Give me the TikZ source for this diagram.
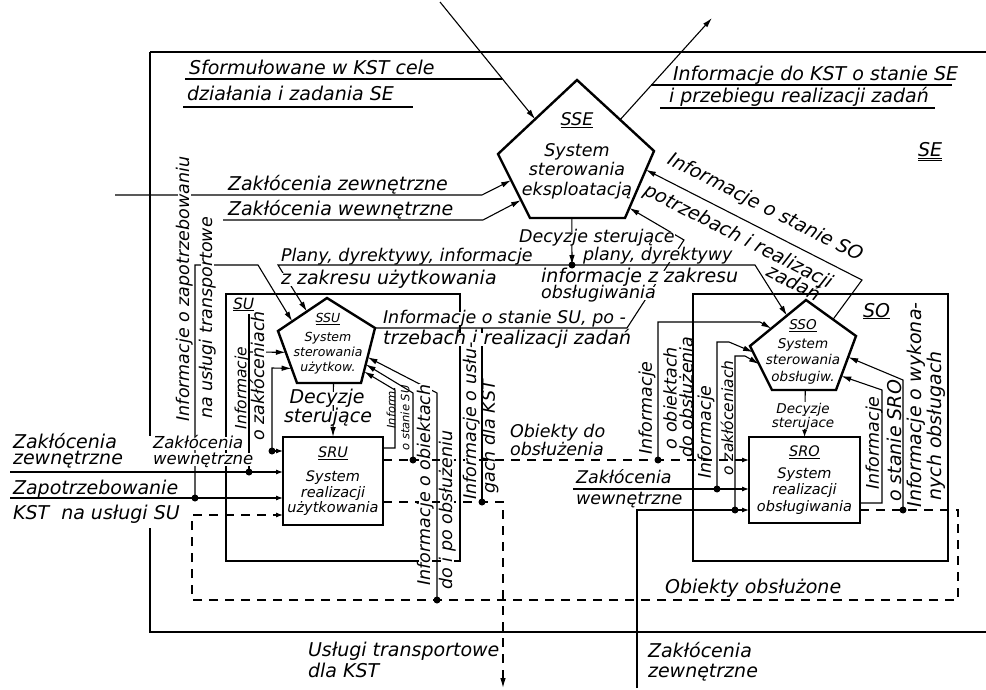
\documentclass[tikz,border=0pt]{standalone}
\usepackage{fontspec}
\setmainfont{DejaVu Sans}[ItalicFont={DejaVu Sans Oblique}]
\usetikzlibrary{arrows.meta,calc}
\tikzset{
  fr/.style={line width=2.3pt},
  pent/.style={line width=2.4pt,line join=miter},
  box/.style={draw,line width=2.2pt,inner sep=0pt,outer sep=0pt,align=center},
  dot/.style={circle,fill,inner sep=0pt,minimum size=7pt},
  flow/.style={dash pattern=on 9pt off 7pt},
  sm/.style={-{Latex[length=7pt,width=5pt]}},
  tA/.style={font=\itshape\fontsize{19}{21}\selectfont,inner sep=0.5pt},
  tB/.style={font=\itshape\fontsize{17.5}{19.5}\selectfont,inner sep=0.5pt},
  tC/.style={font=\itshape\fontsize{15.5}{17}\selectfont,inner sep=0.5pt},
  tD/.style={font=\itshape\fontsize{13.5}{16}\selectfont,inner sep=0.5pt},
  tE/.style={font=\itshape\fontsize{12.5}{15}\selectfont,inner sep=0.5pt},
  tF/.style={font=\itshape\fontsize{11.5}{13}\selectfont,inner sep=0.5pt},
  tS/.style={font=\itshape\fontsize{14.5}{15.5}\selectfont},
  wht/.style={fill=white,text height=11pt,text depth=1pt},
  vert/.style={rotate=90}
}
\begin{document}
\begin{tikzpicture}[x=1pt,y=-1pt,line width=1.1pt,>={Latex[length=10pt,width=5.5pt]}]
\useasboundingbox (0,0) rectangle (986,690);

\coordinate (sseT) at (577,80);
\coordinate (sseUL) at (498,154);
\coordinate (sseLL) at (530,218);
\coordinate (sseLR) at (625,218);
\coordinate (sseUR) at (654,151);
\coordinate (ssuT) at (327,298);
\coordinate (ssuUL) at (278,331);
\coordinate (ssuLL) at (297,383);
\coordinate (ssuLR) at (361,383);
\coordinate (ssuUR) at (375,328);
\coordinate (ssoT) at (806,300);
\coordinate (ssoUL) at (750,346);
\coordinate (ssoLL) at (772,390);
\coordinate (ssoLR) at (836,390);
\coordinate (ssoUR) at (856,336);

\draw (150,52) -- (986,52);
\draw (150,52) -- (150,436);
\draw (150,528) -- (150,632) -- (986,632);
\draw[fr] (226,294) rectangle (460,561);
\draw[fr] (693,294) rectangle (948,561);

\draw[pent] (sseT) -- (sseUL) -- (sseLL) -- (sseLR) -- (sseUR) -- cycle;
\draw[pent] (ssuT) -- (ssuUL) -- (ssuLL) -- (ssuLR) -- (ssuUR) -- cycle;
\draw[pent] (ssoT) -- (ssoUL) -- (ssoLL) -- (ssoLR) -- (ssoUR) -- cycle;
\node[tB,align=center] (sse) at (577,156) {\underline{SSE}\\[11pt]System\\sterowania\\eksploatacją};
\node[tE,align=center] (ssu) at (328,344) {\underline{SSU}\\[4pt]System\\sterowania\\użytkow.};
\node[font=\itshape\fontsize{13.5}{16.5}\selectfont,align=center] (sso) at (803,352) {\underline{SSO}\\[2pt]System\\sterowania\\obsługiw.};
\node[box,tS,minimum width=100pt,minimum height=88pt] (sru) at (333,481) {\underline{SRU}\\[9pt]System\\realizacji\\użytkowania};
\node[box,font=\itshape\fontsize{14.5}{16.5}\selectfont,minimum width=111pt,minimum height=86pt] (sro) at (804.5,480) {\underline{SRO}\\[5pt]System\\realizacji\\obsługiwania};

\node[dot] (dDem) at (195,498) {};
\node[dot] (dZz) at (249,472) {};
\node[dot] (dZw) at (272,451) {};
\node[dot] (dObj1) at (413,460) {};
\node[dot] (dPo) at (437,600) {};
\node[dot] (dUsl) at (482,502) {};
\node[dot] (dObj2) at (658,460) {};
\node[dot] (dZw2) at (717,489) {};
\node[dot] (dZe) at (735,510) {};
\node[dot] (dWyk) at (903,510) {};
\node[dot] (decJ) at (572,265) {};
\coordinate (kstIn) at (440,2);
\coordinate (kstOut) at (712,18);
\coordinate (infSU) at (395,448);
\coordinate (stSRO) at (882,503);
\coordinate (poIn) at (192,515);

\draw[->] (kstIn) -- ($(sseT)!0.53!(sseUL)$);
\draw (185,79) -- (502,79);
\draw (183,107) -- (413,107);
\draw[->] ($(sseT)!0.56!(sseUR)$) -- (kstOut);
\draw (651,85) -- (952,85);
\draw (660,108) -- (935,108);
\draw[->] (115,195) -- (482,195) -- ($(sseUL)!0.41!(sseLL)$);
\draw[->] (223,220) -- (483,220) -- ($(sseUL)!0.72!(sseLL)$);

\draw[->] ($(sseLL)!0.44!(sseLR)$) -- (decJ.center);
\draw[->] (decJ.center) -- (278,265) -- ($(ssuT)!0.41!(ssuUL)$);
\draw[->] (decJ.center) -- (755,265) -- ($(ssoT)!0.34!(ssoUL)$);
\draw[->] ($(ssoT)!0.54!(ssoUR)$) -- (862,280) -- ($(sseUR)!0.28!(sseLR)$);
\draw[->] (ssuUR) -- (627,328) -- (684,240) -- ($(sseUR)!0.85!(sseLR)$);

\draw[->] (dDem.center) -- (195,265) -- (258,265) -- ($(ssuT)!0.71!(ssuUL)$);
\draw (dZz.center) -- (249,314);
\draw[->] (249,352) -- ($(ssuUL)!0.41!(ssuLL)$);
\draw[->] (dZw.center) -- (272,368) -- ($(ssuUL)!0.72!(ssuLL)$);
\draw[->] ($(ssuLL)!0.57!(ssuLR)$) -- (sru.north);
\draw[sm] (dZw.center) -- (dZw -| sru.west);
\draw[sm] (10,472) -- (dZz -| sru.west);
\draw[sm] (10,498) -- (dDem -| sru.west);
\draw[flow,sm] (dWyk -| sro.east) -- (958,510) -- (958,600) -- (192,600) -- (poIn) -- (poIn -| sru.west);

\draw[->] (infSU -| sru.east) -- (infSU) -- (395,390) -- ($(ssuUR)!0.79!(ssuLR)$);
\draw[->] (dObj1.center) -- (413,393) -- ($(ssuUR)!0.66!(ssuLR)$);
\draw[->] (dPo.center) -- (437,393) -- ($(ssuUR)!0.53!(ssuLR)$);
\draw[flow,sm] (dObj1 -| sru.east) -- (dObj2 -| sro.west);
\draw[flow,->] (dUsl -| sru.east) -- (503,502) -- (503,688);
\draw (dUsl.center) -- (482,328);

\draw[->] (dObj2.center) -- (658,322) -- (760,322) -- ($(ssoT)!0.62!(ssoUL)$);
\draw[sm] (573,489) -- (dZw2 -| sro.west);
\draw[->] (dZw2.center) -- (717,342) -- (729,342) -- ($(ssoUL)!0.14!(ssoLL)$);
\draw[sm] (637,688) -- (637,510) -- (dZe -| sro.west);
\draw[->] (dZe.center) -- (735,356) -- (745,356) -- ($(ssoUL)!0.41!(ssoLL)$);
\draw[sm] ($(ssoLL)!0.52!(ssoLR)$) -- (sro.north);
\draw[->] (stSRO -| sro.east) -- (stSRO) -- (882,390) -- ($(ssoUR)!0.74!(ssoLR)$);
\draw[->] (dWyk.center) -- (903,380) -- ($(ssoUR)!0.39!(ssoLR)$);

\node[tA,anchor=base west] (tCele) at (188,75) {Sformułowane w KST cele};
\node[tA,anchor=base west] (tZad) at (186,101) {działania i zadania SE};
\node[tA,anchor=base west] (tInfKst) at (672,81) {Informacje do KST o stanie SE};
\node[tA,anchor=base west] (tPrzeb) at (668,103) {i przebiegu realizacji zadań};
\node[tA,anchor=base west] (tSE) at (917,157) {\underline{\underline{SE}}};
\node[tA,anchor=base west] (tZzTop) at (227,190) {Zakłócenia zewnętrzne};
\node[tA,anchor=base west] (tZwTop) at (227,215) {Zakłócenia wewnętrzne};
\node[tB,anchor=base west] (tPlany) at (280,261) {Plany, dyrektywy, informacje};
\node[tA,anchor=base west,wht] (tZakrU) at (280,284) {z zakresu użytkowania};
\node[tB,anchor=base west,wht] (tDecE) at (518,243) {Decyzje sterujące};
\node[tB,anchor=base west,wht] (tPlanyO) at (582,260) {plany, dyrektywy};
\node[tA,anchor=base west,wht] (tInfO) at (540,282) {informacje z zakresu};
\node[tB,anchor=base west,wht] (tObsl) at (540,298) {obsługiwania};
\node[tB,anchor=base west,wht] (tStSU) at (382,323) {Informacje o stanie SU, po -};
\node[tA,anchor=base west,wht] (tTrz) at (382,344) {trzebach i realizacji zadań};
\node[tA,rotate=-27] (tStSO) at (765,208) {Informacje o stanie SO};
\node[tA,rotate=-27] (tPotrz) at (738,237) {potrzebach i realizacji};
\node[tA,rotate=-27] (tZadSO) at (794,282) {zadań};

\node[tC,anchor=base west] (tSU) at (232,309) {\underline{SU}};
\node[tA,anchor=base,wht] (tDecU1) at (327,403) {Decyzje};
\node[tA,anchor=base,wht] (tDecU2) at (328,422) {sterujące};
\node[tB,vert,wht] (tZap1) at (184,289) {Informacje o zapotrzebowaniu};
\node[tB,vert,wht] (tZap2) at (207,318) {na usługi transportowe};
\node[tC,vert] (tZak1) at (242,388) {Informacje};
\node[tB,vert,wht] (tZak2) at (259,376) {o zakłóceniach};
\node[tF,vert] (tInfS1) at (391,408) {Inform.};
\node[tF,vert] (tInfS2) at (405,418) {o stanie SU};
\node[tB,vert,wht] (tObi1) at (425,485) {Informacje o obiektach};
\node[tB,vert,wht] (tObi2) at (447,510) {do i po obsłużeniu};
\node[tB,vert,wht] (tUsl1) at (471,421) {Informacje o usłu-};
\node[tB,vert] (tUsl2) at (490,437) {gach dla KST};

\node[tA,anchor=base west] (tZzL1) at (12,448) {Zakłócenia};
\node[tA,anchor=base west] (tZzL2) at (12,464) {zewnętrzne};
\node[font=\itshape\fontsize{16.5}{18}\selectfont,inner sep=0.5pt,anchor=base west,wht] (tZwL1) at (152,448) {Zakłócenia};
\node[font=\itshape\fontsize{16.5}{18}\selectfont,inner sep=0.5pt,anchor=base west,wht] (tZwL2) at (152,464) {wewnętrzne};
\node[tA,anchor=base west] (tZapKst1) at (12,494) {Zapotrzebowanie};
\node[tA,anchor=base west] (tZapKst2) at (12,519) {KST\ \ na usługi SU};

\node[tB,anchor=base west] (tDoObs1) at (509,437) {Obiekty do};
\node[tB,anchor=base west] (tDoObs2) at (509,455) {obsłużenia};
\node[tB,anchor=base west] (tZwO1) at (575,483) {Zakłócenia};
\node[tB,anchor=base west] (tZwO2) at (575,504) {wewnętrzne};
\node[tA,anchor=base west] (tObsl2) at (664,593) {Obiekty obsłużone};
\node[tA,anchor=base west] (tUslT1) at (307,656) {Usługi transportowe};
\node[tA,anchor=base west] (tUslT2) at (307,677) {dla KST};
\node[tA,anchor=base west] (tZzB1) at (647,657) {Zakłócenia};
\node[tA,anchor=base west] (tZzB2) at (647,677) {zewnętrzne};

\node[tA,anchor=base west] (tSO) at (862,317) {\underline{SO}};
\node[tD,anchor=base,wht] (tDecO1) at (803,413) {Decyzje};
\node[tD,anchor=base,wht] (tDecO2) at (803,427) {sterujace};
\node[tB,vert] (tOo1) at (647,408) {Informacje};
\node[tB,vert] (tOo2) at (670,398) {o obiektach};
\node[tB,vert] (tOo3) at (686,397) {do obsłużenia};
\node[tB,vert] (tZo1) at (706,432) {Informacje};
\node[tC,vert] (tZo2) at (727,418) {o zakłóceniach};
\node[tB,vert] (tSr1) at (874,443) {Informacje};
\node[tA,vert] (tSr2) at (894,441) {o stanie SRO};
\node[tA,vert] (tWy1) at (916,405) {Informacje o wykona-};
\node[tA,vert] (tWy2) at (936,426) {nych obsługach};
\end{tikzpicture}
\end{document}
